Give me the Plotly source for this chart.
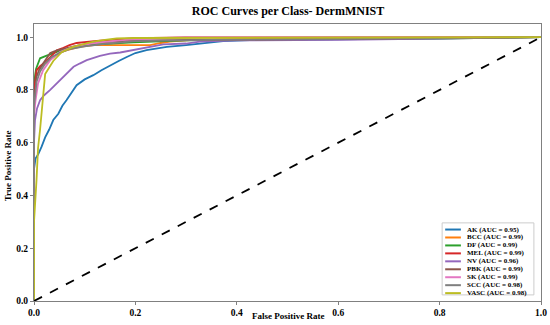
import plotly.graph_objects as go

# ---- data ----
class_names = ["AK", "BCC", "DF", "MEL", "NV", "PBK", "SK", "SCC", "VASC"]
auc_values = [0.95, 0.99, 0.99, 0.99, 0.96, 0.99, 0.99, 0.98, 0.98]
colors = ["#1f77b4", "#ff7f0e", "#2ca02c", "#d62728", "#9467bd",
          "#8c564b", "#e377c2", "#7f7f7f", "#bcbd22"]

fpr_ak = [0.0, 0.0, 0.003, 0.008, 0.015, 0.022, 0.03, 0.038, 0.048, 0.056, 0.064, 0.074,
          0.084, 0.1, 0.117, 0.133, 0.15, 0.167, 0.183, 0.2, 0.222, 0.242, 0.262, 0.3,
          0.327, 0.373, 0.426, 0.5, 0.6, 0.8, 1.0]
tpr_ak = [0.0, 0.50, 0.54, 0.555, 0.585, 0.62, 0.65, 0.686, 0.71, 0.74, 0.761, 0.79,
          0.818, 0.84, 0.856, 0.875, 0.894, 0.91, 0.925, 0.94, 0.951, 0.957, 0.963, 0.97,
          0.976, 0.985, 0.989, 0.99, 0.992, 0.996, 1.0]

fpr_bcc = [0.0, 0.0, 0.004, 0.012, 0.025, 0.038, 0.05, 0.065, 0.09, 0.117, 0.16, 0.196,
           0.229, 0.25, 0.268, 0.308, 0.4, 0.6, 0.8, 1.0]
tpr_bcc = [0.0, 0.80, 0.875, 0.885, 0.905, 0.925, 0.94, 0.951, 0.963, 0.97, 0.97, 0.97,
           0.97, 0.978, 0.983, 0.989, 0.993, 0.996, 0.998, 1.0]

fpr_df = [0.0, 0.0, 0.004, 0.012, 0.025, 0.038, 0.06, 0.097, 0.14, 0.196, 0.3, 0.5, 0.8, 1.0]
tpr_df = [0.0, 0.82, 0.88, 0.92, 0.93, 0.94, 0.955, 0.97, 0.975, 0.98, 0.988, 0.992, 0.995, 1.0]

fpr_mel = [0.0, 0.0, 0.005, 0.012, 0.025, 0.035, 0.045, 0.058, 0.07, 0.084, 0.1, 0.124,
           0.15, 0.2, 0.3, 0.5, 0.8, 1.0]
tpr_mel = [0.0, 0.80, 0.875, 0.89, 0.91, 0.93, 0.95, 0.96, 0.97, 0.978, 0.982, 0.986,
           0.99, 0.996, 0.999, 1.0, 1.0, 1.0]

fpr_nv = [0.0, 0.0, 0.002, 0.006, 0.012, 0.02, 0.032, 0.042, 0.051, 0.065, 0.078, 0.09,
          0.104, 0.13, 0.15, 0.17, 0.196, 0.229, 0.255, 0.3, 0.327, 0.4, 0.6, 0.8, 1.0]
tpr_nv = [0.0, 0.60, 0.686, 0.73, 0.761, 0.78, 0.80, 0.82, 0.837, 0.865, 0.888, 0.90,
          0.913, 0.929, 0.938, 0.942, 0.951, 0.963, 0.973, 0.976, 0.983, 0.988, 0.99, 0.995, 1.0]

fpr_pbk = [0.0, 0.0, 0.005, 0.01, 0.018, 0.025, 0.032, 0.045, 0.065, 0.09, 0.13, 0.2,
           0.35, 0.6, 1.0]
tpr_pbk = [0.0, 0.75, 0.85, 0.875, 0.9, 0.92, 0.94, 0.95, 0.96, 0.97, 0.98, 0.988,
           0.99, 0.993, 1.0]

fpr_sk = [0.0, 0.0, 0.003, 0.008, 0.018, 0.032, 0.051, 0.077, 0.1, 0.13, 0.18, 0.24,
          0.3, 0.6, 1.0]
tpr_sk = [0.0, 0.70, 0.76, 0.825, 0.875, 0.913, 0.944, 0.963, 0.972, 0.98, 0.99, 0.996,
          0.999, 1.0, 1.0]

fpr_scc = [0.0, 0.0, 0.005, 0.012, 0.022, 0.035, 0.05, 0.07, 0.1, 0.14, 0.2, 0.35,
           0.6, 1.0]
tpr_scc = [0.0, 0.74, 0.83, 0.87, 0.9, 0.925, 0.94, 0.955, 0.965, 0.975, 0.985, 0.99,
           0.993, 1.0]

fpr_vasc = [0.0, 0.0, 0.005, 0.008, 0.012, 0.017, 0.022, 0.03, 0.038, 0.055, 0.077,
            0.1, 0.117, 0.14, 0.163, 0.2, 0.4, 0.7, 1.0]
tpr_vasc = [0.0, 0.30, 0.46, 0.58, 0.65, 0.75, 0.86, 0.885, 0.91, 0.944, 0.963,
            0.975, 0.983, 0.99, 0.995, 0.997, 0.998, 0.999, 1.0]

fpr_list = [fpr_ak, fpr_bcc, fpr_df, fpr_mel, fpr_nv, fpr_pbk, fpr_sk, fpr_scc, fpr_vasc]
tpr_list = [tpr_ak, tpr_bcc, tpr_df, tpr_mel, tpr_nv, tpr_pbk, tpr_sk, tpr_scc, tpr_vasc]

diag_x = [0.0, 1.0]
diag_y = [0.0, 1.0]

tick_vals = [0.0, 0.2, 0.4, 0.6, 0.8, 1.0]
tick_text = ["0.0", "0.2", "0.4", "0.6", "0.8", "1.0"]

FONT = "Liberation Serif"

fig = go.Figure()
for name, auc, col, fx, ty in zip(class_names, auc_values, colors, fpr_list, tpr_list):
    fig.add_trace(go.Scatter(
        x=fx, y=ty, mode="lines",
        line=dict(color=col, width=1.8),
        name=f"{name} (AUC = {auc:.2f})",
        showlegend=False,
    ))

fig.add_trace(go.Scatter(
    x=diag_x, y=diag_y, mode="lines",
    line=dict(color="black", width=1.8, dash="dash"),
    showlegend=False,
))

# ---- compact legend (matplotlib-style) built from shapes + annotations ----
fig.add_shape(type="rect", xref="paper", yref="paper",
              x0=0.805, x1=0.986, y0=0.022, y1=0.282,
              line=dict(color="#cccccc", width=1), fillcolor="white", layer="above")
row_top = 0.258
row_step = 0.0287
for i, (name, auc, col) in enumerate(zip(class_names, auc_values, colors)):
    yy = row_top - i * row_step
    fig.add_shape(type="line", xref="paper", yref="paper",
                  x0=0.811, x1=0.842, y0=yy, y1=yy,
                  line=dict(color=col, width=2), layer="above")
    fig.add_annotation(xref="paper", yref="paper", x=0.851, y=yy,
                       xanchor="left", yanchor="middle", showarrow=False,
                       text=f"{name} (AUC = {auc:.2f})",
                       font=dict(family=FONT, size=7, color="black", weight="bold"))

# ---- axis titles placed like matplotlib's ----
fig.add_annotation(xref="paper", yref="paper", x=0.5, y=-0.054,
                   xanchor="center", yanchor="middle", showarrow=False,
                   text="False Positive Rate",
                   font=dict(family=FONT, size=9, color="black", weight="bold"))
fig.add_annotation(xref="paper", yref="paper", x=-0.0513, y=0.49,
                   xanchor="center", yanchor="middle", showarrow=False, textangle=-90,
                   text="True Positive Rate",
                   font=dict(family=FONT, size=9, color="black", weight="bold"))

axis_common = dict(
    showline=True, mirror=True, linecolor="#808080", linewidth=1,
    showgrid=False, zeroline=False,
    ticks="outside", ticklen=3, tickcolor="#808080",
    tickfont=dict(family=FONT, size=9.5, color="black", weight="bold"),
    tickvals=tick_vals, ticktext=tick_text,
    ticklabeloverflow="allow", automargin=False,
)

fig.update_layout(
    width=550, height=325,
    margin=dict(l=34, r=9, t=24, b=24),
    paper_bgcolor="white", plot_bgcolor="white",
    title=dict(text="ROC Curves per Class- DermMNIST", x=0.5237, xanchor="center",
               y=0.968, yanchor="middle",
               font=dict(family=FONT, size=12, color="black", weight="bold")),
    xaxis=dict(range=[0, 1.0], **axis_common),
    yaxis=dict(range=[0, 1.05], **axis_common),
    showlegend=False,
)

fig.write_html(
    "out.html",
    config={"displayModeBar": False},
    post_script="document.body.style.margin='0px';document.body.style.overflow='hidden';",
)
